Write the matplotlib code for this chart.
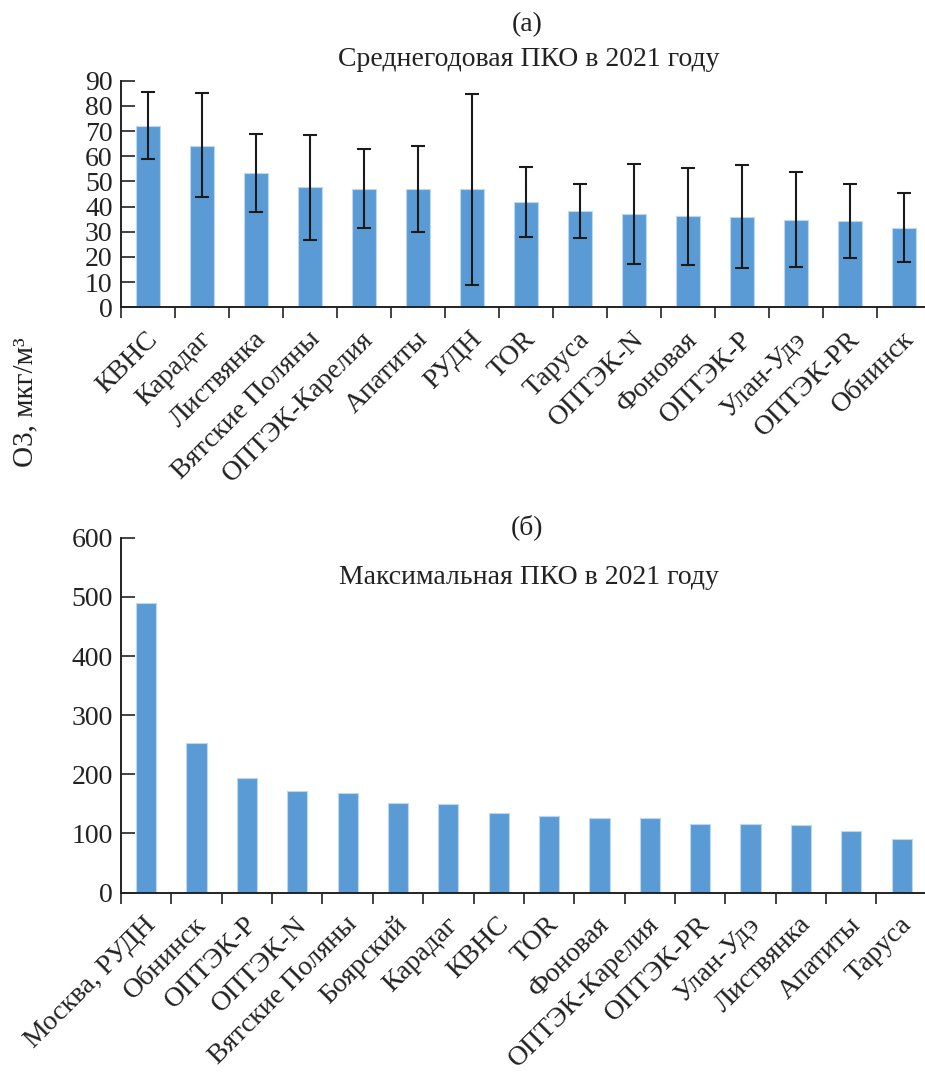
import matplotlib
matplotlib.use("Agg")
import matplotlib.pyplot as plt
import matplotlib.transforms as mtransforms
import numpy as np

plt.rcParams['font.family'] = ['Liberation Serif', 'DejaVu Serif']

# (a) annual mean surface ozone, with range whiskers
sites_a = ["КВНС", "Карадаг", "Листвянка", "Вятские Поляны", "ОПТЭК-Карелия",
           "Апатиты", "РУДН", "TOR", "Таруса", "ОПТЭК-N", "Фоновая",
           "ОПТЭК-P", "Улан-Удэ", "ОПТЭК-PR", "Обнинск"]
mean_a = [72.0, 64.2, 53.2, 47.6, 46.9, 46.9, 46.9, 41.7, 38.2, 36.9, 36.1,
          36.0, 34.8, 34.3, 31.5]
upper_a = [85.5, 85.1, 68.8, 68.4, 62.7, 64.1, 84.8, 55.8, 49.0, 56.9, 55.5,
           56.4, 53.7, 49.0, 45.3]
lower_a = [58.8, 43.7, 37.8, 26.7, 31.5, 29.9, 9.0, 27.9, 27.5, 17.1, 16.9,
           15.6, 16.1, 19.7, 18.0]

# (б) annual maximum surface ozone
sites_b = ["Москва, РУДН", "Обнинск", "ОПТЭК-P", "ОПТЭК-N", "Вятские Поляны",
           "Боярский", "Карадаг", "КВНС", "TOR", "Фоновая", "ОПТЭК-Карелия",
           "ОПТЭК-PR", "Улан-Удэ", "Листвянка", "Апатиты", "Таруса"]
max_b = [490, 253, 193, 171, 169, 151, 150, 134, 129, 127, 126, 116, 116, 114,
         104, 91]

bar_color = "#5b9bd5"
edge_color = "#bdd7ee"
text_color = "#222222"
fs = 20

fig = plt.figure(figsize=(9.25, 10.72), dpi=100)
ax1 = fig.add_axes([0.1308, 0.7133, 0.8757, 0.2114])
ax2 = fig.add_axes([0.1308, 0.1673, 0.8712, 0.3311])


def style_axes(ax, n, labels, yticks):
    x = np.arange(n)
    ax.set_xlim(-0.5, n - 0.5)
    ax.set_xticks(x)
    ax.set_xticklabels(labels, rotation=45, ha='right', va='top',
                       rotation_mode='anchor', fontsize=fs)
    ax.tick_params(axis='x', which='major', length=0, pad=14)
    ax.set_xticks(np.arange(n + 1) - 0.5, minor=True)
    ax.tick_params(axis='x', which='minor', length=8, width=1.2,
                   direction='out', color=text_color)
    ax.set_yticks(yticks)
    ax.tick_params(axis='y', length=10, width=1.2, direction='in',
                   labelsize=fs, pad=6, color=text_color)
    for lab in ax.get_yticklabels() + ax.get_xticklabels():
        lab.set_color(text_color)
    offset = mtransforms.ScaledTranslation(-3 / 100, 0, fig.dpi_scale_trans)
    for lab in ax.get_xticklabels():
        lab.set_transform(lab.get_transform() + offset)
    for side in ('top', 'right'):
        ax.spines[side].set_visible(False)
    for side in ('left', 'bottom'):
        ax.spines[side].set_linewidth(1.4)
        ax.spines[side].set_color(text_color)


# panel (a)
xa = np.arange(len(sites_a))
mean_arr = np.array(mean_a)
yerr = [mean_arr - np.array(lower_a), np.array(upper_a) - mean_arr]
ax1.bar(xa, mean_a, width=0.43, color=bar_color, edgecolor=edge_color,
        linewidth=0.8, zorder=2)
ax1.errorbar(xa, mean_a, yerr=yerr, fmt='none', ecolor='#1a1a1a',
             elinewidth=1.5, capsize=5, capthick=1.5, zorder=3)
ax1.set_ylim(0, 90)
style_axes(ax1, len(sites_a), sites_a, np.arange(0, 91, 10))

# panel (б)
xb = np.arange(len(sites_b))
ax2.bar(xb, max_b, width=0.40, color=bar_color, edgecolor=edge_color,
        linewidth=0.8, zorder=2)
ax2.set_ylim(0, 600)
style_axes(ax2, len(sites_b), sites_b, np.arange(0, 601, 100))

# headings
fig.text(0.570, 1 - 25 / 1072, "(a)", ha='center', va='center', fontsize=fs,
         color=text_color)
fig.text(0.572, 1 - 60 / 1072, "Среднегодовая ПКО в 2021 году", ha='center',
         va='center', fontsize=fs, color=text_color)
fig.text(0.570, 1 - 527 / 1072, "(б)", ha='center', va='center', fontsize=fs,
         color=text_color)
fig.text(0.572, 1 - 577 / 1072, "Максимальная ПКО в 2021 году", ha='center',
         va='center', fontsize=fs, color=text_color)

# shared y-axis label
fig.text(25 / 925, 1 - 402 / 1072, "O3, мкг/м³", rotation=90, ha='center',
         va='center', fontsize=21, color=text_color)

fig.savefig("out.png", dpi=100)
